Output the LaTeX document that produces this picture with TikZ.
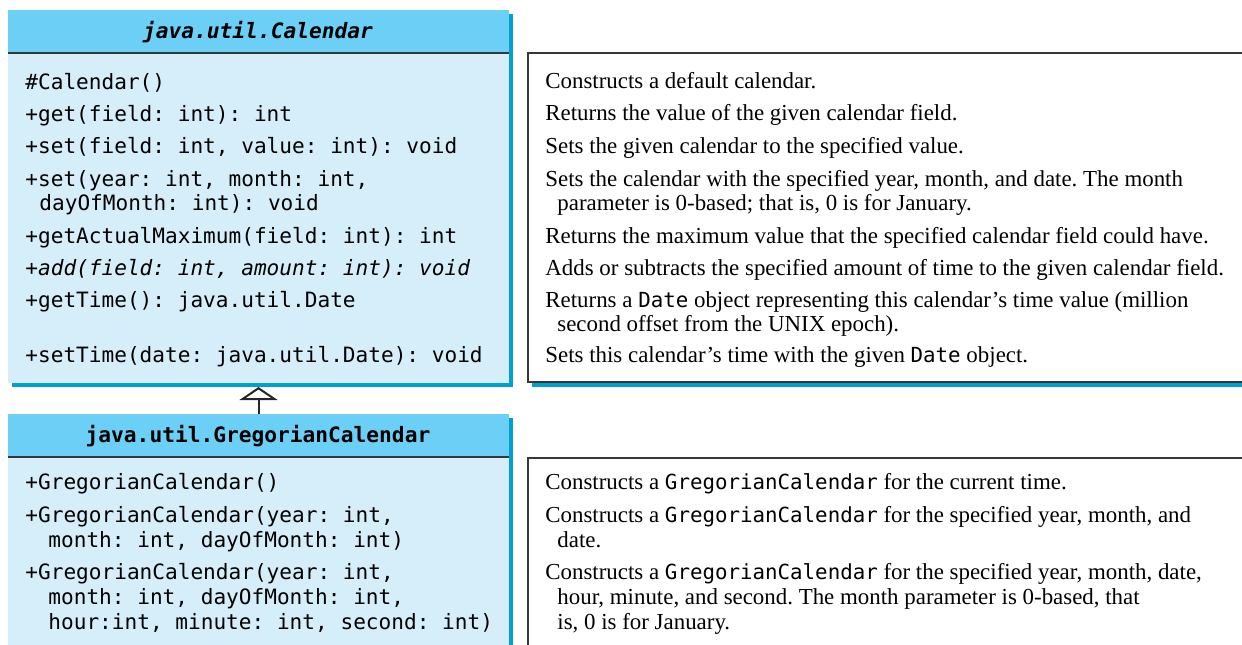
\documentclass[tikz,border=0pt]{standalone}
\usepackage{fontspec}
\setmainfont{Liberation Serif}
\newfontfamily\mono{DejaVu Sans Mono}
\usetikzlibrary{arrows.meta}
\definecolor{headc}{RGB}{108,207,246}
\definecolor{bodyc}{RGB}{214,237,250}
\definecolor{shadc}{RGB}{0,160,210}
\definecolor{edgec}{RGB}{55,55,55}
\tikzset{
  mtext/.style={anchor=base west, inner sep=0pt, font=\mono\fontsize{10.55}{12}\selectfont},
  htext/.style={anchor=base, inner sep=0pt, font=\mono\bfseries\fontsize{10.6}{12}\selectfont},
  dtext/.style={anchor=base west, inner sep=0pt, font=\fontsize{11.45}{12}\selectfont},
  headbox/.style={anchor=north west, inner sep=0pt, outer sep=0pt, fill=headc, minimum width=250.5pt, minimum height=21.5pt},
  bodybox/.style={anchor=north west, inner sep=0pt, outer sep=0pt, fill=bodyc, minimum width=250.5pt},
  descbox/.style={anchor=north west, inner sep=0pt, outer sep=0pt, fill=white, draw=edgec, line width=0.8pt, minimum width=360pt},
  sep/.style={draw=edgec, line width=0.8pt},
  inherit/.style={draw=black!85, line width=1pt, shorten >=2pt, -{Triangle[open, length=6.5pt, width=19pt, line width=1pt]}}
}
\newcommand{\mc}[1]{{\mono\fontsize{10.4}{12}\selectfont #1}}
\frenchspacing
\begin{document}
\begin{tikzpicture}[x=0.5pt, y=-0.5pt]
\path[use as bounding box, clip] (0,0) rectangle (1242,644);
% shadows
\fill[shadc] (12,14) rectangle (513,387);
\fill[shadc] (12,418) rectangle (513,700);
\fill[shadc] (532,57) rectangle (1260,387);
\fill[shadc] (532,462) rectangle (1260,700);
% upper class
\node[headbox] (ch) at (8,10) {};
\node[bodybox, minimum height=165pt] (cb) at (8,53) {};
\draw[sep] (ch.south west) -- (ch.south east);
% lower class
\node[headbox] (gh) at (8,414) {};
\node[bodybox, minimum height=110pt] (gb) at (8,457) {};
\draw[sep] (gh.south west) -- (gh.south east);
% description boxes
\node[descbox, minimum height=164.5pt] (db1) at (528,53) {};
\node[descbox, minimum height=120pt] (db2) at (528,458) {};
% inheritance
\draw[inherit] (gh.north) -- (cb.south);
% headers
\node[htext, font=\mono\bfseries\itshape\fontsize{10.6}{12}\selectfont] (t1) at (258,38) {java.util.Calendar};
\node[htext] (t2) at (258,442) {java.util.GregorianCalendar};
% upper members
\node[mtext] (a1) at (25,89) {\#Calendar()};
\node[mtext] (a2) at (25,121) {+get(field: int): int};
\node[mtext] (a3) at (25,153) {+set(field: int, value: int): void};
\node[mtext] (a4) at (25,186) {+set(year: int, month: int,};
\node[mtext] (a4b) at (39,210) {dayOfMonth: int): void};
\node[mtext] (a5) at (25,243) {+getActualMaximum(field: int): int};
\node[mtext, font=\mono\itshape\fontsize{10.55}{12}\selectfont] (a6) at (25,275) {+add(field: int, amount: int): void};
\node[mtext] (a7) at (25,307) {+getTime(): java.util.Date};
\node[mtext] (a8) at (25,362) {+setTime(date: java.util.Date): void};
% upper descriptions
\node[dtext] (b1) at (545,88) {Constructs a default calendar.};
\node[dtext] (b2) at (545,120) {Returns the value of the given calendar field.};
\node[dtext] (b3) at (545,153) {Sets the given calendar to the specified value.};
\node[dtext] (b4) at (545,186) {Sets the calendar with the specified year, month, and date. The month};
\node[dtext] (b4b) at (557,210) {parameter is 0-based; that is, 0 is for January.};
\node[dtext] (b5) at (545,243) {Returns the maximum value that the specified calendar field could have.};
\node[dtext] (b6) at (545,275) {Adds or subtracts the specified amount of time to the given calendar field.};
\node[dtext] (b7) at (545,307) {Returns a \mc{Date} object representing this calendar’s time value (million};
\node[dtext] (b7b) at (557,331) {second offset from the UNIX epoch).};
\node[dtext] (b8) at (545,362) {Sets this calendar’s time with the given \mc{Date} object.};
% lower members
\node[mtext] (c1) at (25,489) {+GregorianCalendar()};
\node[mtext] (c2) at (25,522) {+GregorianCalendar(year: int,};
\node[mtext] (c2b) at (48,547) {month: int, dayOfMonth: int)};
\node[mtext] (c3) at (25,579) {+GregorianCalendar(year: int,};
\node[mtext] (c3b) at (48,604) {month: int, dayOfMonth: int,};
\node[mtext] (c3c) at (48,629) {hour:int, minute: int, second: int)};
% lower descriptions
\node[dtext] (e1) at (545,489) {Constructs a \mc{GregorianCalendar} for the current time.};
\node[dtext] (e2) at (545,522) {Constructs a \mc{GregorianCalendar} for the specified year, month, and};
\node[dtext] (e2b) at (557,547) {date.};
\node[dtext] (e3) at (545,579) {Constructs a \mc{GregorianCalendar} for the specified year, month, date,};
\node[dtext] (e3b) at (557,604) {hour, minute, and second. The month parameter is 0-based, that};
\node[dtext] (e3c) at (557,629) {is, 0 is for January.};
\end{tikzpicture}
\end{document}
